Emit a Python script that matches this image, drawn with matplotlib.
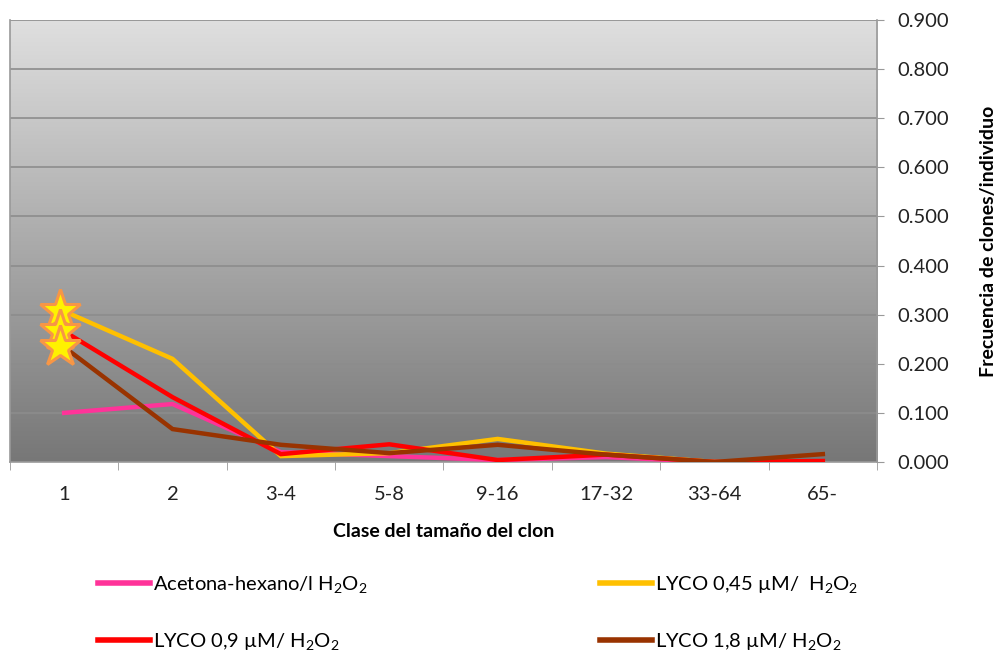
import numpy as np
import matplotlib.pyplot as plt
from matplotlib.colors import LinearSegmentedColormap
from matplotlib.lines import Line2D

plt.rcParams['font.family'] = ['Lato', 'DejaVu Sans']
plt.rcParams['mathtext.fontset'] = 'custom'
plt.rcParams['mathtext.rm'] = 'Lato'

clases = ["1", "2", "3-4", "5-8", "9-16", "17-32", "33-64", "65-"]
acetona = [0.100, 0.118, 0.020, 0.012, 0.004, 0.010, 0.000, 0.000]
lyco_045 = [0.307, 0.210, 0.012, 0.018, 0.047, 0.017, 0.000, 0.000]
lyco_09 = [0.266, 0.132, 0.016, 0.036, 0.004, 0.015, 0.000, 0.002]
lyco_18 = [0.234, 0.067, 0.035, 0.018, 0.035, 0.015, 0.000, 0.016]

etiquetas = [r"Acetona-hexano/l $\mathregular{H_2O_2}$",
             r"LYCO 0,9 µM/ $\mathregular{H_2O_2}$",
             r"LYCO 0,45 µM/  $\mathregular{H_2O_2}$",
             r"LYCO 1,8 µM/ $\mathregular{H_2O_2}$"]
colores = ["#FF3399", "#FF0000", "#FFC000", "#993300"]
series = [acetona, lyco_09, lyco_045, lyco_18]

fig = plt.figure(figsize=(10.06, 6.54), dpi=100)
ax = fig.add_axes([0.0099, 0.2936, 0.8619, 0.6758])

x = np.arange(len(clases))
ax.set_xlim(-0.5, len(clases) - 0.5)
ax.set_ylim(0, 0.9)

# fondo degradado gris
grad = LinearSegmentedColormap.from_list("fondo", ["#777777", "#dfdfdf"])
ax.imshow(np.linspace(0, 1, 256).reshape(-1, 1), cmap=grad, origin="lower",
          extent=(-0.5, len(clases) - 0.5, 0, 0.9), aspect="auto", zorder=0)

for yv in np.arange(0.1, 0.91, 0.1):
    ax.axhline(yv, color="#8c8c8c", linewidth=1.2, zorder=1)

orden = [0, 2, 1, 3]
for i in orden:
    ax.plot(x, series[i], color=colores[i], linewidth=3.2, zorder=3,
            solid_joinstyle="miter")

# estrellas sobre la clase 1
for s in [lyco_045, lyco_09, lyco_18]:
    ax.plot(x[0] - 0.04, s[0], marker="*", markersize=31,
            markerfacecolor="#FFF200", markeredgecolor="#F79646",
            markeredgewidth=2.2, zorder=4, linestyle="none")

ax.yaxis.tick_right()
ax.yaxis.set_label_position("right")
ax.set_yticks(np.arange(0, 0.91, 0.1))
ax.set_yticklabels([f"{v:.3f}" for v in np.arange(0, 0.91, 0.1)])
ax.tick_params(axis="y", direction="out", length=5, color="#999999",
               labelsize=14.5, pad=10, labelcolor="#222222")

ax.set_xticks(x)
ax.set_xticklabels(clases)
ax.set_xticks(np.arange(-0.5, len(clases)), minor=True)
ax.tick_params(axis="x", which="major", length=0, labelsize=14.5, pad=17,
               labelcolor="#222222")
ax.tick_params(axis="x", which="minor", direction="out", length=6,
               color="#999999")

ax.spines["top"].set_visible(False)
for sp in ["left", "bottom", "right"]:
    ax.spines[sp].set_color("#999999")
    ax.spines[sp].set_linewidth(1.2)

ax.set_xlabel("Clase del tamaño del clon", fontsize=14, fontweight="bold",
              labelpad=15)
ax.set_ylabel("Frecuencia de clones/individuo", fontsize=14,
              fontweight="bold", labelpad=22)

handles = [Line2D([0], [0], color=c, linewidth=4) for c in colores]
kw = dict(frameon=False, fontsize=14.5, handlelength=2.6, handletextpad=0.15,
          labelspacing=1.8, loc="upper left", borderaxespad=0)
leg1 = fig.legend(handles[:2], etiquetas[:2], **kw)
leg1.set_bbox_to_anchor((0.089, 0.1346), transform=fig.transFigure)
leg2 = fig.legend(handles[2:], etiquetas[2:], **kw)
leg2.set_bbox_to_anchor((0.588, 0.1346), transform=fig.transFigure)

fig.savefig("out.png", dpi=100)
